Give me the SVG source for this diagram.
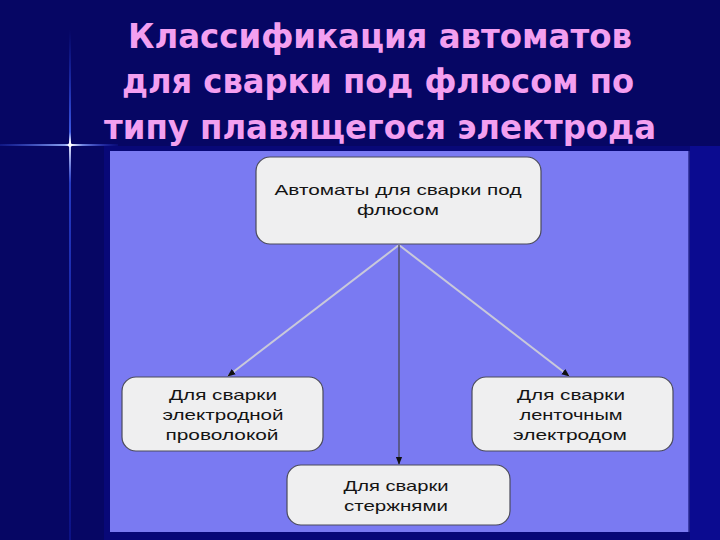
<svg xmlns="http://www.w3.org/2000/svg" width="720" height="540" viewBox="0 0 720 540">
  <defs>
    <style>
      .title { font-family: "DejaVu Sans Condensed", "DejaVu Sans", "Liberation Sans", sans-serif; font-stretch: condensed; font-weight: bold; font-size: 34px; fill: #f39ff0; text-anchor: middle; }
      .node rect { fill: #efeff0; stroke: #4a4a5a; stroke-width: 1.2; }
      .node text { font-family: "Liberation Sans", Arial, sans-serif; font-size: 15px; fill: #141414; text-anchor: middle; }
      .diag { stroke: #c9c9da; stroke-width: 2; fill: none; }
      .vert { stroke: #4a4a55; stroke-width: 1.3; fill: none; }
    </style>
    <marker id="arr" viewBox="0 0 10 10" refX="9" refY="5" markerWidth="8" markerHeight="8" orient="auto" markerUnits="userSpaceOnUse">
      <path d="M0,1 L10,5 L0,9 Z" fill="#111"/>
    </marker>
    <linearGradient id="hline" x1="0" y1="0" x2="1" y2="0">
      <stop offset="0" stop-color="#3a5cff" stop-opacity="0.2"/>
      <stop offset="0.55" stop-color="#9ab4ff" stop-opacity="0.9"/>
      <stop offset="0.6" stop-color="#ffffff" stop-opacity="1"/>
      <stop offset="0.7" stop-color="#8aa4ff" stop-opacity="0.8"/>
      <stop offset="1" stop-color="#2a3cff" stop-opacity="0.1"/>
    </linearGradient>
    <linearGradient id="vline" x1="0" y1="0" x2="0" y2="1">
      <stop offset="0" stop-color="#2a4cff" stop-opacity="0"/>
      <stop offset="0.2" stop-color="#4a6cff" stop-opacity="0.8"/>
      <stop offset="0.22" stop-color="#ffffff" stop-opacity="1"/>
      <stop offset="0.3" stop-color="#3a5cff" stop-opacity="0.6"/>
      <stop offset="1" stop-color="#1a2cd0" stop-opacity="0.3"/>
    </linearGradient>
  </defs>

  <rect x="0" y="0" width="720" height="540" fill="#060664"/>
  <rect x="104" y="146" width="616" height="394" fill="#080878"/>
  <rect x="690" y="146" width="30" height="394" fill="#0b0b90"/>

  <!-- decorative star -->
  <rect x="69" y="30" width="2" height="510" fill="url(#vline)"/>
  <rect x="0" y="144" width="118" height="2" fill="url(#hline)"/>
  <circle cx="70" cy="145" r="2" fill="#ffffff"/>

  <!-- title -->
  <text class="title" x="380" y="48" textLength="504" lengthAdjust="spacingAndGlyphs">Классификация автоматов</text>
  <text class="title" x="378" y="93" textLength="512" lengthAdjust="spacingAndGlyphs">для сварки под флюсом по</text>
  <text class="title" x="380" y="139" textLength="552" lengthAdjust="spacingAndGlyphs">типу плавящегося электрода</text>

  <!-- panel -->
  <rect x="110" y="151" width="579" height="381" fill="#7a7af2"/>
  <line x1="689" y1="151" x2="689" y2="532" stroke="#2a2a90" stroke-width="1.5"/>

  <!-- connectors -->
  <g id="connectors">
    <line class="diag" x1="399" y1="245" x2="228" y2="376" marker-end="url(#arr)"/>
    <line class="diag" x1="399" y1="245" x2="569" y2="376" marker-end="url(#arr)"/>
    <line class="vert" x1="399" y1="245" x2="399" y2="464" marker-end="url(#arr)"/>
  </g>

  <g id="node-top" class="node">
    <rect x="256" y="157" width="285" height="87" rx="14" ry="14"/>
    <text x="398" y="195" textLength="247" lengthAdjust="spacingAndGlyphs">Автоматы для сварки под</text>
    <text x="398" y="215" textLength="82" lengthAdjust="spacingAndGlyphs">флюсом</text>
  </g>

  <g id="node-wire" class="node">
    <rect x="122" y="377" width="201" height="74" rx="14" ry="14"/>
    <text x="223" y="400" textLength="108" lengthAdjust="spacingAndGlyphs">Для сварки</text>
    <text x="223" y="420" textLength="121" lengthAdjust="spacingAndGlyphs">электродной</text>
    <text x="222" y="440" textLength="113" lengthAdjust="spacingAndGlyphs">проволокой</text>
  </g>

  <g id="node-strip" class="node">
    <rect x="472" y="377" width="201" height="74" rx="14" ry="14"/>
    <text x="571" y="400" textLength="108" lengthAdjust="spacingAndGlyphs">Для сварки</text>
    <text x="571" y="420" textLength="103" lengthAdjust="spacingAndGlyphs">ленточным</text>
    <text x="570" y="440" textLength="114" lengthAdjust="spacingAndGlyphs">электродом</text>
  </g>

  <g id="node-rods" class="node">
    <rect x="287" y="465" width="223" height="60" rx="14" ry="14"/>
    <text x="396" y="491" textLength="105" lengthAdjust="spacingAndGlyphs">Для сварки</text>
    <text x="396" y="511" textLength="104" lengthAdjust="spacingAndGlyphs">стержнями</text>
  </g>
</svg>
